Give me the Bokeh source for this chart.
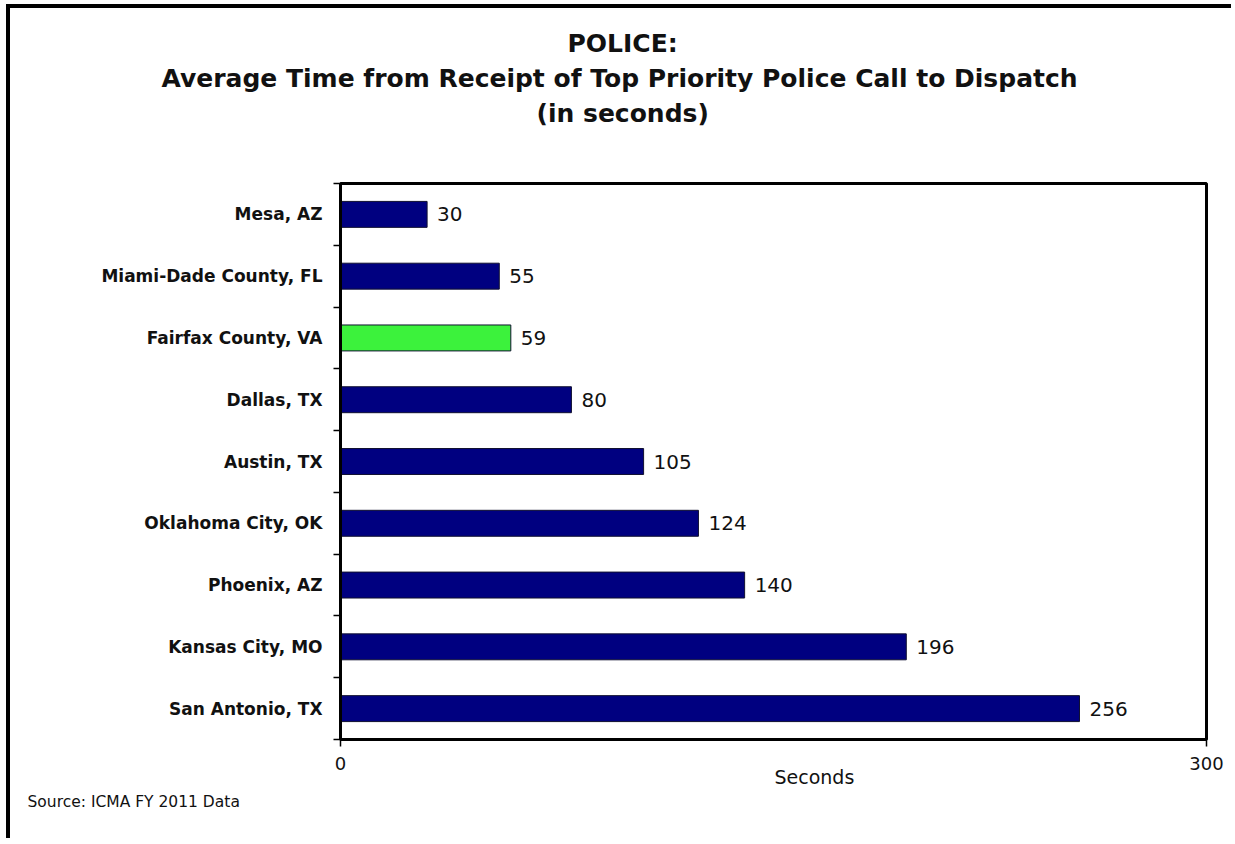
from bokeh.plotting import figure
from bokeh.models import ColumnDataSource, FixedTicker, Title, Range1d
from bokeh.embed import file_html
from bokeh.resources import INLINE
from bokeh.core.properties import value

# ---- data ----
cities = ["Mesa, AZ", "Miami-Dade County, FL", "Fairfax County, VA", "Dallas, TX",
          "Austin, TX", "Oklahoma City, OK", "Phoenix, AZ", "Kansas City, MO", "San Antonio, TX"]
seconds = [30, 55, 59, 80, 105, 124, 140, 196, 256]
highlight = "Fairfax County, VA"
x_ticks = [0, 300]
title_lines = ["POLICE:",
               "Average Time from Receipt of  Top Priority Police Call to Dispatch",
               "(in seconds)"]
x_label = "Seconds"
source_note = "Source: ICMA FY 2011 Data"

NAVY = "#000080"
GREEN = "#3cf23c"
FONT = "DejaVu Sans"

n = len(cities)
ypos = [n - i - 0.5 for i in range(n)]
colors = [GREEN if c == highlight else NAVY for c in cities]
labels_txt = [str(v) for v in seconds]

src = ColumnDataSource(dict(y=ypos, v=seconds, c=colors, t=labels_txt))

# element placed at (6, 4) with a 4px left/top border -> canvas origin (10, 8)
W, H = 1225, 834
CX, CY = 10, 8
FL, FR, FT, FB = 340, 1206, 183, 739  # frame edges on the page

p = figure(width=W, height=H, output_backend="svg", toolbar_location=None,
           x_range=Range1d(0, 300), y_range=Range1d(0, n),
           min_border_left=FL - CX, min_border_right=(CX + W) - FR,
           min_border_top=FT - CY, min_border_bottom=(CY + H) - FB)
p.styles = {"margin-left": "6px", "margin-top": "4px",
            "border-left": "4px solid black", "border-top": "4px solid black"}
p.background_fill_color = "white"
p.border_fill_color = "white"
p.grid.visible = False
p.outline_line_color = "black"
p.outline_line_width = 3

p.hbar(y="y", left=0, right="v", height=0.42, fill_color="c", line_color="#101030",
       line_width=1, source=src)
p.text(x="v", y="y", text="t", x_offset=10, text_baseline="middle", text_align="left",
       text_font=value(FONT), text_font_size="20px", text_color="#111111", source=src)

# x axis
xa = p.xaxis[0]
xa.ticker = FixedTicker(ticks=x_ticks)
xa.minor_tick_line_color = None
xa.major_tick_out = 7
xa.major_tick_in = 0
xa.major_tick_line_width = 1.5
xa.axis_line_width = 3
xa.major_label_text_font = FONT
xa.major_label_text_font_size = "18px"
xa.major_label_text_color = "#111111"
xa.major_label_standoff = 10

# y axis
ya = p.yaxis[0]
ya.ticker = FixedTicker(ticks=ypos, minor_ticks=list(range(n + 1)))
ya.major_label_overrides = {y: c for y, c in zip(ypos, cities)}
ya.major_tick_line_color = None
ya.major_tick_out = 0
ya.major_tick_in = 0
ya.minor_tick_out = 7
ya.minor_tick_in = 0
ya.minor_tick_line_color = "black"
ya.minor_tick_line_width = 1.5
ya.axis_line_width = 3
ya.major_label_text_font = FONT
ya.major_label_text_font_style = "bold"
ya.major_label_text_font_size = "17px"
ya.major_label_text_color = "#111111"
ya.major_label_standoff = 11


def add_title(text, left_x, side, size, style="normal", standoff=4):
    t = Title(text=text, align="left", offset=left_x - FL, standoff=standoff,
              text_font=FONT, text_font_size=size, text_font_style=style,
              text_color="#111111")
    p.add_layout(t, side)


# titles: first added sits closest to the frame; a blank spacer lifts the block
add_title(" ", FL, "above", "25px", standoff=23)
add_title(title_lines[2], 536, "above", "25px", "bold")
add_title(title_lines[1], 161, "above", "25px", "bold")
add_title(title_lines[0], 567, "above", "25px", "bold")
add_title(x_label, 774, "below", "19px", standoff=-18)
add_title(source_note, 27, "below", "15.5px", standoff=24)

open("out.html", "w").write(file_html(p, INLINE))
